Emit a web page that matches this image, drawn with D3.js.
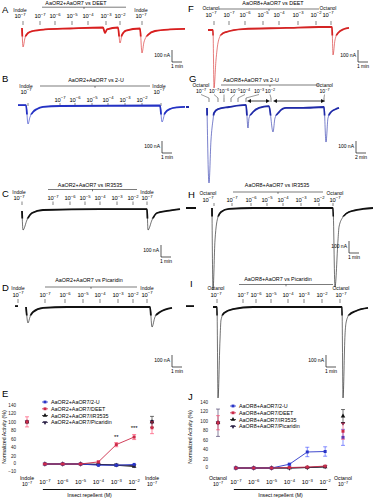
<!DOCTYPE html>
<html>
<head>
<meta charset="utf-8">
<script src="https://cdn.jsdelivr.net/npm/d3@7"></script>
<style>
  body { margin: 0; background: #fff; }
  svg { font-family: "Liberation Sans", Arial, sans-serif; }
</style>
</head>
<body>
<svg id="fig" width="373" height="500"></svg>
<script>
// ---- data ----
// traces: [time (min), current (nA)], NaN marks a gap in the recording
const traceA = [[0,0],[0.1,-158],[0.3,-83],[0.6,-42],[1.1,-25],[2.3,-12],[4.8,-4],[8.1,4],[8.3,-42],[8.5,-12],[9.6,4],[9.8,-125],[10.0,-58],[10.4,-21],[11.8,-4],[12.0,-208],[12.2,-117],[12.6,-58],[13.3,-25],[14.8,-12],[16.3,-8]];
const traceB = [[-0.4,8],[0.4,8],[0.6,-150],[0.8,-92],[1.1,-50],[1.5,-25],[2.1,-8],[3.8,0],[13.8,4],[14.0,-133],[14.3,-58],[14.8,-25],[15.5,-12],[16.3,-8]];
const traceC = [[0,-8],[0.1,-167],[0.5,-83],[1.0,-25],[2.1,0],[7.8,8],[12.5,8],[12.6,-167],[13.0,-83],[13.5,-25],[14.5,-8],[15.8,8]];
const traceD = [[-0.7,8],[-0.4,8],[NaN,NaN],[0.4,0],[0.6,-133],[0.8,-83],[1.1,-42],[2.1,-8],[4.5,0],[12.6,0],[12.8,0],[13.0,-167],[13.3,-83],[13.8,-42],[15.0,-8]];
const traceF = [[2.2,-25],[2.7,-25],[2.8,-508],[3.0,-275],[3.2,-133],[3.5,-67],[4.0,-42],[5.7,-17],[10.0,-8],[13.3,0],[14.6,0],[14.7,-233],[14.9,-108],[15.2,-50],[15.8,-17],[16.3,-8]];
const traceG = [[0,0],[0.6,0],[NaN,NaN],[4.2,-8],[4.6,-633],[5.0,-275],[5.4,-108],[5.6,-50],[6.4,-17],[8.6,0],[12.0,17],[12.4,-175],[12.6,-92],[13.4,-42],[14.6,-8],[16.6,8],[17.4,-208],[17.8,-92],[18.6,-42],[20.0,-8],[23.4,-8],[27.6,0],[28.0,-292],[28.4,-92],[29.0,-42],[30.0,-17],[30.6,-8]];
const traceH = [[0,0],[1.0,0],[NaN,NaN],[2.6,0],[2.7,-683],[2.9,-267],[3.2,-75],[3.5,-33],[4.3,-8],[6.7,0],[14.7,0],[14.9,-658],[15.2,-267],[15.3,-158],[15.7,-75],[16.3,-33],[17.7,-8],[18.7,0]];
const traceI = [[0,8],[0.8,8],[NaN,NaN],[2.7,0],[3.1,0],[3.2,-758],[3.4,-275],[3.5,-108],[3.8,-50],[4.7,-17],[6.7,0],[15.3,0],[15.6,0],[15.7,-758],[15.9,-233],[16.0,-133],[16.3,-67],[17.0,-33],[18.2,-8]];

// application times (min): control, 1e-7 .. 1e-2, control
const ticksA = [0.1, 1.8, 3.3, 5.0, 6.6, 8.4, 9.8, 12.0];
const ticksB = [0.6, 3.8, 5.3, 7.0, 8.6, 10.3, 12.0, 13.9];
const ticksC = [0, 3.1, 4.8, 6.3, 7.8, 9.5, 11.1, 12.5];
const ticksD = [-0.4, 2.3, 4.3, 6.1, 7.8, 9.6, 11.1, 12.5];
const ticksF = [2.8, 4.3, 5.9, 7.7, 9.3, 11.2, 13.0, 14.5];
const ticksG = [4.6, 6.4, 7.6, 9.0, 10.4, 12.0, 17.0, 27.6];
const labelsG = [3.4, 5.6, 7.6, 9.8, 11.8, 14.6, 16.8, 27.5];
const arrowsG = [[12.4, 16.6], [17.6, 27.6]];
const ticksH = [2.8, 4.6, 6.5, 8.1, 9.7, 11.5, 13.3, 14.7];
const ticksI = [3.1, 5.7, 7.0, 8.5, 10.2, 11.8, 13.6, 15.4];

const concExp = ['\u22127', '\u22127', '\u22126', '\u22125', '\u22124', '\u22123', '\u22122', '\u22127'];
const concM = [1e-7, 1e-6, 1e-5, 1e-4, 1e-3, 1e-2];

// dose-response, series order: 2-U, DEET, IR3535, Picaridin
const repellents = ['2-U', 'DEET', 'IR3535', 'Picaridin'];
const e2U = [0, 0, 0, -3, -3, -1];
const eDEET = [0, 0, 0, 5, 46, 64];
const eDEETerr = [1, 1, 1, 2, 5, 6];
const eIR = [0, 0, 0, -1, -3, -6];
const ePic = [0, 0, 0, -1, -2, -4];
const eCtrlL = [100, 100, 100, 100];
const eCtrlLerr = [0, 12, 0, 0];
const eCtrlR = [100, 86, 100, 100];
const eCtrlRerr = [0, 14, 13, 0];
const eSig = ['', '', '', '', '**', '***'];

const j2U = [0, 0, 0, 8, 34, 35];
const j2Uerr = [0.5, 0.5, 0.5, 2, 10, 10];
const jDEET = [0, 0, 0, 1, 2, 4];
const jIR = [0, 0, 0, 0, 1, 2];
const jPic = [0, 0, 0, 0, 1, 3];
const jCtrlL = [96, 96, 96, 96];
const jCtrlLerr = [0, 15, 0, 29];
const jCtrlR = [65, 78, 110, 95];
const jCtrlRerr = [17, 17, 14, 0];

const yTicksE = [-10, 0, 20, 40, 60, 80, 100, 120, 140];
const yTicksJ = [0, 20, 40, 60, 80, 100, 120, 140];

// ---- drawing ----
const svg = d3.select('#fig');
const defs = svg.append('defs');
const PX_PER_100NA = 12;

function pow10(g, x, y, exp, size) {
    const t = g.append('text')
        .attr('x', x).attr('y', y)
        .attr('text-anchor', 'middle')
        .attr('font-size', size);
    t.append('tspan').text('10');
    t.append('tspan').attr('dy', -size * 0.35).attr('font-size', size * 0.72).text(exp);
    return t;
}

function letter(x, y, s) {
    svg.append('text').attr('x', x).attr('y', y).attr('font-size', 9.5).text(s);
}

function drawTrace(p) {
    const g = svg.append('g');
    const x = d3.scaleLinear().domain([0, 1]).range([p.x0, p.x0 + p.ppm]);
    const y = d3.scaleLinear().domain([0, -100]).range([p.y0, p.y0 + PX_PER_100NA]);

    letter(p.letter[0], p.letter[1], p.id);

    // title and bracket line
    g.append('text')
        .attr('x', p.tx).attr('y', p.ty)
        .attr('text-anchor', 'middle').attr('font-size', 5.4)
        .text(p.title);
    g.append('line')
        .attr('x1', p.line[0]).attr('x2', p.line[1])
        .attr('y1', p.line[2]).attr('y2', p.line[2])
        .attr('stroke', '#222').attr('stroke-width', 0.6);
    const mid = (p.line[0] + p.line[1]) / 2;
    g.append('line')
        .attr('x1', mid).attr('x2', mid)
        .attr('y1', p.line[2]).attr('y2', p.line[2] + 1.8)
        .attr('stroke', '#222').attr('stroke-width', 0.6);

    // application ticks + labels
    const labelTimes = p.labels || p.ticks;
    const fs = p.labels ? 5.2 : 5.8;
    p.ticks.forEach((t, i) => {
        g.append('line')
            .attr('x1', x(t)).attr('x2', x(t))
            .attr('y1', p.tickY[0]).attr('y2', p.tickY[1])
            .attr('stroke', '#333').attr('stroke-width', 0.6);
        const isCtrl = i === 0 || i === p.ticks.length - 1;
        const shift = i === 0 ? p.ctrlShift[0] : i === p.ticks.length - 1 ? p.ctrlShift[1] : 0;
        const lx = x(labelTimes[i]) + shift;
        if (isCtrl) {
            g.append('text')
                .attr('x', lx).attr('y', p.ctrlY)
                .attr('text-anchor', 'middle').attr('font-size', 4.9)
                .text(p.ctrl);
        }
        pow10(g, lx, isCtrl ? p.ctrlPowY : p.concY, concExp[i], fs);
        if (p.labels) {
            g.append('line')
                .attr('x1', lx).attr('x2', x(t))
                .attr('y1', p.concY + 1.5).attr('y2', p.tickY[0])
                .attr('stroke', '#333').attr('stroke-width', 0.5);
        }
    });

    // double-headed arrows (panel G)
    (p.arrows || []).forEach(a => {
        g.append('line')
            .attr('x1', x(a[0]) + 1).attr('x2', x(a[1]) - 1)
            .attr('y1', p.tickY[1] - 1).attr('y2', p.tickY[1] - 1)
            .attr('stroke', '#111').attr('stroke-width', 0.8)
            .attr('marker-start', 'url(#arr)').attr('marker-end', 'url(#arr)');
    });

    // current trace: thin line for the fast inward spikes, heavy line near baseline
    const line = d3.line()
        .defined(d => !isNaN(d[0]))
        .x(d => x(d[0]))
        .y(d => y(d[1]))
        .curve(d3.curveMonotoneX);
    g.append('path')
        .datum(p.data)
        .attr('d', line)
        .attr('fill', 'none')
        .attr('stroke', p.color)
        .attr('stroke-opacity', 0.85)
        .attr('stroke-width', 0.7);
    defs.append('clipPath').attr('id', 'band' + p.id)
        .append('rect')
        .attr('x', 0).attr('width', 373)
        .attr('y', y(40)).attr('height', y(-70) - y(40));
    g.append('path')
        .datum(p.data)
        .attr('d', line)
        .attr('clip-path', `url(#band${p.id})`)
        .attr('fill', 'none')
        .attr('stroke', p.color)
        .attr('stroke-width', 1.8)
        .attr('stroke-linejoin', 'round');

    // scale bar
    const bx = p.bar[0], by = p.bar[1];
    const bw = x(p.barMin) - x(0);
    const bh = y(-100) - y(0);
    g.append('path')
        .attr('d', `M${bx},${by - bh}V${by}H${bx + bw}`)
        .attr('fill', 'none').attr('stroke', '#111').attr('stroke-width', 0.7);
    g.append('text')
        .attr('x', bx - 2).attr('y', by - 5)
        .attr('text-anchor', 'end').attr('font-size', 5)
        .text('100 nA');
    g.append('text')
        .attr('x', bx + bw / 2).attr('y', by + 6)
        .attr('text-anchor', 'middle').attr('font-size', 5)
        .text(p.barMin + ' min');
}

defs.append('marker')
    .attr('id', 'arr')
    .attr('viewBox', '0 0 10 10')
    .attr('refX', 5).attr('refY', 5)
    .attr('markerWidth', 5).attr('markerHeight', 5)
    .attr('orient', 'auto-start-reverse')
    .append('path').attr('d', 'M0,0L10,5L0,10z').attr('fill', '#111');

const tracePanels = [
    { id: 'A', letter: [2, 13], data: traceA, ticks: ticksA, color: '#d81f1f', x0: 22, ppm: 10, y0: 28,
      title: 'AaOR2+AaOR7 vs DEET', tx: 76, ty: 5.2, line: [42, 126, 7.2], ctrl: 'Indole',
      ctrlY: 11.5, ctrlPowY: 18, concY: 18, ctrlShift: [-3, -1], tickY: [21, 25], bar: [172, 62], barMin: 1 },
    { id: 'B', letter: [2, 82], data: traceB, ticks: ticksB, color: '#2432c4', x0: 22, ppm: 10, y0: 106,
      title: 'AaOR2+AaOR7 vs 2-U', tx: 96, ty: 82, line: [40, 150, 86], ctrl: 'Indole',
      ctrlY: 87.5, ctrlPowY: 93.5, concY: 101.5, ctrlShift: [-2, -2], tickY: [103, 106], bar: [162, 153], barMin: 1 },
    { id: 'C', letter: [2, 197], data: traceC, ticks: ticksC, color: '#111', x0: 22, ppm: 10, y0: 210,
      title: 'AaOR2+AaOR7 vs IR3535', tx: 90, ty: 186.5, line: [48, 137, 189.5], ctrl: 'Indole',
      ctrlY: 193.5, ctrlPowY: 200, concY: 200, ctrlShift: [-3, 0], tickY: [201.5, 205], bar: [161, 257], barMin: 1 },
    { id: 'D', letter: [2, 291], data: traceD, ticks: ticksD, color: '#111', x0: 22, ppm: 10, y0: 307,
      title: 'AaOR2+AaOR7 vs Picaridin', tx: 89, ty: 282, line: [45, 137, 287], ctrl: 'Indole',
      ctrlY: 290, ctrlPowY: 296.5, concY: 297, ctrlShift: [0, 0], tickY: [299, 303], bar: [172, 367], barMin: 1 },
    { id: 'F', letter: [188, 12], data: traceF, ticks: ticksF, color: '#d42424', x0: 186, ppm: 10, y0: 27,
      title: 'AaOR8+AaOR7 vs DEET', tx: 273, ty: 5.2, line: [219, 319, 9], ctrl: 'Octanol',
      ctrlY: 10, ctrlPowY: 16.5, concY: 16.5, ctrlShift: [-3, -3], tickY: [21, 25], bar: [358, 62], barMin: 1 },
    { id: 'G', letter: [189, 82], data: traceG, ticks: ticksG, labels: labelsG, arrows: arrowsG, color: '#1f2aa8', x0: 186, ppm: 5, y0: 107,
      title: 'AaOR8+AaOR7 vs 2-U', tx: 251, ty: 81.5, line: [221, 319, 85], ctrl: 'Octanol',
      ctrlY: 86.5, ctrlPowY: 93, concY: 93, ctrlShift: [-2, 1], tickY: [98, 102], bar: [356, 153], barMin: 2 },
    { id: 'H', letter: [188, 198], data: traceH, ticks: ticksH, color: '#111', x0: 186, ppm: 10, y0: 208,
      title: 'AaOR8+AaOR7 vs IR3535', tx: 277, ty: 186.5, line: [233, 323, 192], ctrl: 'Octanol',
      ctrlY: 195, ctrlPowY: 201.5, concY: 201.5, ctrlShift: [-6, 2], tickY: [203, 206], bar: [349, 253], barMin: 1 },
    { id: 'I', letter: [190, 287], data: traceI, ticks: ticksI, color: '#111', x0: 186, ppm: 10, y0: 307,
      title: 'AaOR8+AaOR7 vs Picaridin', tx: 278, ty: 281, line: [239, 333, 284.5], ctrl: 'Octanol',
      ctrlY: 290, ctrlPowY: 297, concY: 297, ctrlShift: [-1, 1], tickY: [299, 303], bar: [326, 367], barMin: 1 }
];
tracePanels.forEach(drawTrace);

// ---- dose-response panels ----
const seriesColor = ['#2a35c8', '#cc2a48', '#111111', '#2b2145'];
const seriesSymbol = [d3.symbolSquare, d3.symbolSquare, d3.symbolTriangle, d3.symbolTriangle];

function marker(g, cx, cy, i, size) {
    g.append('path')
        .attr('d', d3.symbol().type(seriesSymbol[i]).size(size)())
        .attr('transform', `translate(${cx},${cy})` + (i === 3 ? ' rotate(180)' : ''))
        .attr('fill', seriesColor[i]);
}

function errBar(g, cx, y, v, e, i) {
    if (!e) return;
    const col = d3.color(seriesColor[i]).brighter(0.8);
    g.append('path')
        .attr('d', `M${cx},${y(v - e)}V${y(v + e)}M${cx - 2},${y(v - e)}h4M${cx - 2},${y(v + e)}h4`)
        .attr('fill', 'none').attr('stroke', col).attr('stroke-width', 0.6);
}

function drawDose(o) {
    const g = svg.append('g');
    letter(o.letter[0], o.letter[1], o.id);
    const x = d3.scalePoint().domain(d3.range(8)).range(o.xr);
    const y = d3.scaleLinear().domain([0, 140]).range(o.yr);

    g.append('g')
        .attr('transform', `translate(${o.axisX},0)`)
        .call(d3.axisLeft(y).tickValues(o.yTicks).tickSize(0).tickPadding(1))
        .call(a => a.select('.domain').remove())
        .call(a => a.selectAll('text')
            .attr('font-size', 4.6).attr('fill', '#222')
            .attr('dy', d => d < 0 ? '0.9em' : d === 0 ? '0.15em' : '0.32em'));

    g.append('text')
        .attr('transform', `translate(${o.ylab[0]},${o.ylab[1]}) rotate(-90)`)
        .attr('text-anchor', 'middle').attr('font-size', 5.2)
        .text('Normalized Activity (%)');

    // control columns
    [0, 3, 2, 1].forEach(i => {
        errBar(g, x(0), y, o.ctrlL[i], o.ctrlLerr[i], i);
        marker(g, x(0), y(o.ctrlL[i]), i, 9);
        errBar(g, x(7), y, o.ctrlR[i], o.ctrlRerr[i], i);
        marker(g, x(7), y(o.ctrlR[i]), i, 9);
    });

    // concentration series
    const line = d3.line().x((d, k) => x(k + 1)).y(d => y(d));
    [2, 3, 0, 1].forEach(i => {
        const vals = o.series[i];
        g.append('path').datum(vals).attr('d', line)
            .attr('fill', 'none').attr('stroke', seriesColor[i]).attr('stroke-width', 0.9);
        vals.forEach((v, k) => {
            if (o.errs[i]) errBar(g, x(k + 1), y, v, o.errs[i][k], i);
            marker(g, x(k + 1), y(v), i, 9);
        });
    });

    // significance
    (o.sig || []).forEach((s, k) => {
        if (!s) return;
        const v = o.series[1][k] + o.errs[1][k];
        g.append('text')
            .attr('x', x(k + 1)).attr('y', y(v) - 2 - s.length)
            .attr('text-anchor', 'middle').attr('font-size', 6)
            .text(s);
    });

    // legend
    repellents.forEach((r, i) => {
        const ly = o.legend[1] + i * 6.8;
        g.append('line')
            .attr('x1', o.legend[0] - 3).attr('x2', o.legend[0] + 3)
            .attr('y1', ly).attr('y2', ly)
            .attr('stroke', seriesColor[i]).attr('stroke-width', 0.8);
        marker(g, o.legend[0], ly, i, 8);
        g.append('text')
            .attr('x', o.legend[0] + 6).attr('y', ly + 2)
            .attr('font-size', 5.4)
            .text(o.pair + '/' + r);
    });

    // x labels
    [0, 7].forEach(k => {
        g.append('text')
            .attr('x', x(k)).attr('y', o.xlabY - 4.5)
            .attr('text-anchor', 'middle').attr('font-size', 5.2)
            .text(o.ctrl);
        pow10(g, x(k), o.xlabY + 1.8, '\u22127', 5.2);
    });
    concM.forEach((c, k) => pow10(g, x(k + 1), o.xlabY, concExp[k + 1], 5.8));
    g.append('line')
        .attr('x1', x(1) - 2).attr('x2', x(6) + 2)
        .attr('y1', o.xlabY + 5.5).attr('y2', o.xlabY + 5.5)
        .attr('stroke', '#111').attr('stroke-width', 1.1);
    g.append('text')
        .attr('x', (x(1) + x(6)) / 2).attr('y', o.xlabY + 13)
        .attr('text-anchor', 'middle').attr('font-size', 5.2)
        .text('Insect repellent (M)');
}

drawDose({
    id: 'E', letter: [2, 397], pair: 'AaOR2+AaOR7', ctrl: 'Indole',
    xr: [27, 152], yr: [464, 405], axisX: 17, yTicks: yTicksE, ylab: [6, 437],
    series: [e2U, eDEET, eIR, ePic], errs: [null, eDEETerr, null, null], sig: eSig,
    ctrlL: eCtrlL, ctrlLerr: eCtrlLerr, ctrlR: eCtrlR, ctrlRerr: eCtrlRerr,
    legend: [45, 402], xlabY: 484
});

drawDose({
    id: 'J', letter: [188, 400], pair: 'AaOR8+AaOR7', ctrl: 'Octanol',
    xr: [218, 343], yr: [468, 402], axisX: 209, yTicks: yTicksJ, ylab: [192, 437],
    series: [j2U, jDEET, jIR, jPic], errs: [j2Uerr, null, null, null],
    ctrlL: jCtrlL, ctrlLerr: jCtrlLerr, ctrlR: jCtrlR, ctrlRerr: jCtrlRerr,
    legend: [233, 406], xlabY: 484
});
</script>
</body>
</html>
